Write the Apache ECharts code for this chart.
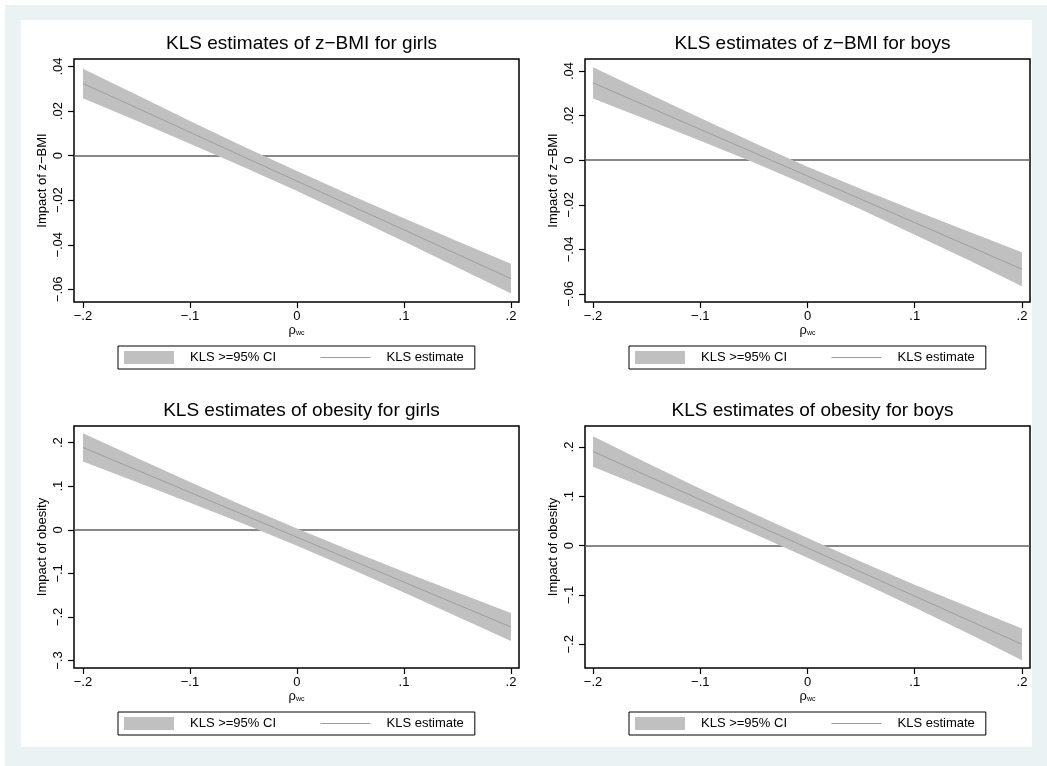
<!DOCTYPE html>
<html>
<head>
<meta charset="utf-8">
<script src="https://cdn.jsdelivr.net/npm/echarts@6/dist/echarts.min.js"></script>
<style>
  html, body { margin: 0; padding: 0; background: #fff; }
  #chart { width: 1047px; height: 766px; }
</style>
</head>
<body>
<div id="chart"></div>
<script>
// rho_wc grid the estimates are read at
const rho = [-0.2, -0.15, -0.1, -0.05, 0, 0.05, 0.1, 0.15, 0.2];

// KLS z-BMI, girls
const zbmiGirlsEst = [0.0324, 0.0215, 0.0105, -0.0005, -0.0114, -0.0224, -0.0333, -0.0443, -0.0552];
const zbmiGirlsLo  = [0.0258, 0.0157, 0.0054, -0.0051, -0.0159, -0.0271, -0.0385, -0.0502, -0.0619];
const zbmiGirlsHi  = [0.0390, 0.0273, 0.0156, 0.0041, -0.0069, -0.0177, -0.0281, -0.0384, -0.0485];

// KLS z-BMI, boys
const zbmiBoysEst = [0.0347, 0.0243, 0.0138, 0.0034, -0.0071, -0.0175, -0.0280, -0.0384, -0.0489];
const zbmiBoysLo  = [0.0277, 0.0183, 0.0087, -0.0010, -0.0113, -0.0221, -0.0334, -0.0448, -0.0565];
const zbmiBoysHi  = [0.0417, 0.0303, 0.0189, 0.0078, -0.0029, -0.0129, -0.0226, -0.0320, -0.0413];

// KLS obesity, girls
const obesGirlsEst = [0.1888, 0.1373, 0.0859, 0.0344, -0.0171, -0.0686, -0.1200, -0.1715, -0.2230];
const obesGirlsLo  = [0.1563, 0.1093, 0.0621, 0.0137, -0.0369, -0.0894, -0.1438, -0.1993, -0.2550];
const obesGirlsHi  = [0.2213, 0.1653, 0.1097, 0.0551, 0.0027, -0.0478, -0.0962, -0.1437, -0.1910];

// KLS obesity, boys
const obesBoysEst = [0.1910, 0.1421, 0.0933, 0.0444, -0.0045, -0.0534, -0.1023, -0.1511, -0.2000];
const obesBoysLo  = [0.1600, 0.1161, 0.0711, 0.0242, -0.0243, -0.0741, -0.1255, -0.1783, -0.2321];
const obesBoysHi  = [0.2220, 0.1681, 0.1155, 0.0646, 0.0153, -0.0327, -0.0791, -0.1239, -0.1679];

const xTicks = [-0.2, -0.1, 0, 0.1, 0.2];
const zbmiTicks = [-0.06, -0.04, -0.02, 0, 0.02, 0.04];
const obesGirlsTicks = [-0.3, -0.2, -0.1, 0, 0.1, 0.2];
const obesBoysTicks = [-0.2, -0.1, 0, 0.1, 0.2];

const titles = [
  'KLS estimates of z\u2212BMI for girls',
  'KLS estimates of z\u2212BMI for boys',
  'KLS estimates of obesity for girls',
  'KLS estimates of obesity for boys'
];
const yNames = ['Impact of z\u2212BMI', 'Impact of z\u2212BMI', 'Impact of obesity', 'Impact of obesity'];
const bandName = 'KLS >=95% CI';
const lineName = 'KLS estimate';

const panels = [
  { est: zbmiGirlsEst, lo: zbmiGirlsLo, hi: zbmiGirlsHi, yTicks: zbmiTicks, ymin: -0.0657, ymax: 0.0434,
    left: 74, top: 59, height: 243, xmin: -0.2084, xmax: 0.2075 },
  { est: zbmiBoysEst, lo: zbmiBoysLo, hi: zbmiBoysHi, yTicks: zbmiTicks, ymin: -0.0636, ymax: 0.0454,
    left: 585, top: 59, height: 243, xmin: -0.2075, xmax: 0.2075 },
  { est: obesGirlsEst, lo: obesGirlsLo, hi: obesGirlsHi, yTicks: obesGirlsTicks, ymin: -0.317, ymax: 0.238,
    left: 74, top: 426, height: 242, xmin: -0.2084, xmax: 0.2075 },
  { est: obesBoysEst, lo: obesBoysLo, hi: obesBoysHi, yTicks: obesBoysTicks, ymin: -0.248, ymax: 0.2426,
    left: 585, top: 426, height: 242, xmin: -0.2075, xmax: 0.2075 }
];
const plotWidth = 445;

const FONT = "'Liberation Sans', Arial, Helvetica, sans-serif";
const BAND = '#c0c0c0';
const EST = '#9e9e9e';

const stataNum = v => {
  if (v === 0) return '0';
  const s = String(Math.abs(v)).replace(/^0/, '');
  return (v < 0 ? '\u2212' : '') + s;
};

const chart = echarts.init(document.getElementById('chart'), null, { renderer: 'canvas' });

const grid = [], xAxis = [], yAxis = [], series = [], title = [], legend = [];

panels.forEach((p, i) => {
  grid.push({
    left: p.left, top: p.top, width: plotWidth, height: p.height,
    show: true, backgroundColor: '#fff', borderColor: '#000', borderWidth: 1.5
  });
  xAxis.push({
    type: 'value', gridIndex: i, min: p.xmin, max: p.xmax,
    axisLine: { show: false, onZero: false },
    axisTick: { show: true, customValues: xTicks, length: 6, lineStyle: { color: '#000', width: 1.2 } },
    axisLabel: { customValues: xTicks, formatter: stataNum, margin: 8, fontSize: 13, color: '#000', fontFamily: FONT },
    splitLine: { show: false },
    name: '{r|\u03c1}{s|wc}', nameLocation: 'middle', nameGap: 22,
    nameTextStyle: {
      color: '#000', fontFamily: FONT,
      rich: { r: { fontSize: 13, fontFamily: FONT, color: '#000' }, s: { fontSize: 7, fontFamily: FONT, color: '#000', padding: [5, 0, 0, 0] } }
    }
  });
  yAxis.push({
    type: 'value', gridIndex: i, min: p.ymin, max: p.ymax,
    axisLine: { show: false, onZero: false },
    axisTick: { show: true, customValues: p.yTicks, length: 6, lineStyle: { color: '#000', width: 1.2 } },
    axisLabel: { customValues: p.yTicks, formatter: stataNum, rotate: 90, margin: 9, fontSize: 13, color: '#000', fontFamily: FONT },
    splitLine: { show: false },
    name: yNames[i], nameLocation: 'middle', nameGap: 25,
    nameTextStyle: { fontSize: 13, color: '#000', fontFamily: FONT }
  });

  // zero reference line, kept under the band
  series.push({
    name: 'zero' + i, type: 'line', xAxisIndex: i, yAxisIndex: i, z: 1, silent: true,
    data: [],
    markLine: {
      silent: true, symbol: ['none', 'none'], z: 1, label: { show: false },
      lineStyle: { color: '#606060', width: 1.5, type: 'solid' },
      data: [{ yAxis: 0 }]
    }
  });
  // CI band: one polygon through the upper bounds and back along the lower bounds
  series.push({
    name: bandName, type: 'custom', xAxisIndex: i, yAxisIndex: i, silent: true, z: 3,
    itemStyle: { color: BAND },
    encode: { x: 0, y: [1, 2] },
    data: rho.map((x, k) => [x, p.lo[k], p.hi[k]]),
    renderItem: (params, api) => {
      if (params.dataIndex !== 0) return null;
      const pts = rho.map((x, k) => api.coord([x, p.hi[k]]));
      for (let k = rho.length - 1; k >= 0; k--) pts.push(api.coord([rho[k], p.lo[k]]));
      return { type: 'polygon', shape: { points: pts }, style: { fill: BAND } };
    }
  });
  series.push({
    name: lineName, type: 'line', xAxisIndex: i, yAxisIndex: i, z: 4,
    symbol: 'none', silent: true,
    lineStyle: { color: EST, width: 1 }, itemStyle: { color: EST },
    data: rho.map((x, k) => [x, p.est[k]])
  });

  const cx = p.left + plotWidth / 2;
  title.push({
    text: titles[i], left: cx, top: p.top - 30, textAlign: 'center',
    textStyle: { fontSize: 19, fontWeight: 'normal', color: '#000', fontFamily: FONT }
  });
  legend.push({
    left: p.left + 44, top: p.top + p.height + 44,
    orient: 'horizontal', selectedMode: false,
    borderColor: '#000', borderWidth: 1, borderRadius: 0,
    padding: [5, 11, 5, 6], itemGap: 44, itemWidth: 50, itemHeight: 13,
    textStyle: { fontSize: 13, color: '#000', fontFamily: FONT, padding: [0, 0, 0, 11] },
    data: [
      { name: bandName, icon: 'rect', itemStyle: { color: BAND } },
      { name: lineName, itemStyle: { opacity: 0 }, lineStyle: { color: EST, width: 1 } }
    ]
  });
});

chart.setOption({
  animation: false,
  backgroundColor: '#fff',
  graphic: [
    { type: 'rect', silent: true, z: -10, shape: { x: 5, y: 5, width: 1042, height: 761 }, style: { fill: '#eaf2f3' } },
    { type: 'rect', silent: true, z: -9, shape: { x: 21, y: 20, width: 1011, height: 727 }, style: { fill: '#fff' } }
  ],
  title, legend, grid, xAxis, yAxis, series
});
</script>
</body>
</html>
